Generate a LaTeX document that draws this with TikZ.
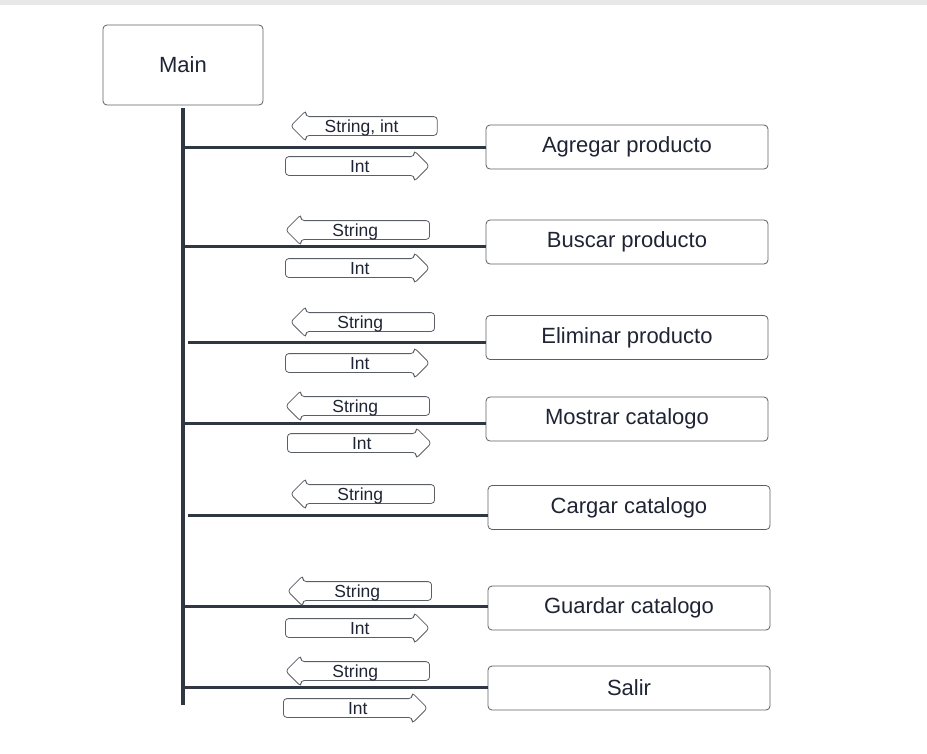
\documentclass[tikz,border=0pt]{standalone}
\usepackage{fontspec}
\setmainfont{Liberation Sans}
\usepackage{xcolor}
\usetikzlibrary{shapes.arrows}

\definecolor{linedark}{HTML}{2F3742}
\definecolor{textdark}{HTML}{1E2433}
\definecolor{boxedge}{HTML}{5A5F66}

\begin{document}
\begin{tikzpicture}[
    x=0.75pt, y=-0.75pt,
    module/.style={
        draw=boxedge,
        rounded corners=3pt,
        line width=0.6pt,
        minimum width=211.5pt,
        minimum height=33pt,
        inner sep=0pt,
        text=textdark,
        font=\fontsize{16.5}{19}\selectfont
    },
    param/.style={
        draw=boxedge,
        single arrow,
        single arrow head extend=4.5pt,
        single arrow tip angle=90,
        minimum height=108pt,
        text height=9pt,
        text depth=0pt,
        inner ysep=2.25pt,
        inner xsep=0pt,
        rounded corners=2.5pt,
        line width=0.6pt,
        text=textdark,
        font=\fontsize{13.1}{15}\selectfont
    },
    goback/.style={param, shape border rotate=180, anchor=tip,
        execute at end node=\hspace*{10.5pt}},
    goto/.style={param, anchor=tip,
        execute at begin node=\hspace*{10.5pt}},
    wire/.style={draw=linedark, line width=2.25pt}
]
\useasboundingbox (0,0) rectangle (927,753);
\fill[gray!18] (0,0) rectangle (927,5);

% main program and its spine
\node[module, minimum width=120pt, minimum height=60pt] (main) at (183,65) {Main};
\coordinate (spineTop) at (183,108);
\coordinate (spineEnd) at (183,705);
\draw[wire, line width=3pt] (spineTop) -- (spineEnd);

% modules
\node[module] (agregar) at (627,147) {Agregar producto};
\node[module] (buscar) at (627,242) {Buscar producto};
\node[module] (eliminar) at (627,337.5) {Eliminar producto};
\node[module] (mostrar) at (627,419) {Mostrar catalogo};
\node[module] (cargar) at (629,507.5) {Cargar catalogo};
\node[module] (guardar) at (629,608) {Guardar catalogo};
\node[module] (salir) at (629,688) {Salir};

% branch points on the spine
\coordinate (brAgregar) at (183,147);
\coordinate (brBuscar) at (183,246);
\coordinate (brEliminar) at (188,342);
\coordinate (brMostrar) at (183,423);
\coordinate (brCargar) at (188,515);
\coordinate (brGuardar) at (183,606);
\coordinate (brSalir) at (183,687);

\draw[wire] (brAgregar) -- (brAgregar -| agregar.west);
\draw[wire] (brBuscar) -- (brBuscar -| buscar.west);
\draw[wire] (brEliminar) -- (brEliminar -| eliminar.west);
\draw[wire] (brMostrar) -- (brMostrar -| mostrar.west);
\draw[wire] (brCargar) -- (brCargar -| cargar.west);
\draw[wire] (brGuardar) -- (brGuardar -| guardar.west);
\draw[wire] (brSalir) -- (brSalir -| salir.west);

% data passed back and forth
\node[goback, minimum height=110pt] (backAgregar) at (290,126) {String, int};
\node[goto] (toAgregar) at (430,166) {Int};
\node[goback] (backBuscar) at (285,230) {String};
\node[goto] (toBuscar) at (430,268) {Int};
\node[goback] (backEliminar) at (290,322) {String};
\node[goto] (toEliminar) at (430,363) {Int};
\node[goback] (backMostrar) at (285,406) {String};
\node[goto] (toMostrar) at (432,443) {Int};
\node[goback] (backCargar) at (290,494) {String};
\node[goback] (backGuardar) at (287,591) {String};
\node[goto] (toGuardar) at (430,628) {Int};
\node[goback] (backSalir) at (285,671) {String};
\node[goto] (toSalir) at (428,708) {Int};
\end{tikzpicture}
\end{document}
